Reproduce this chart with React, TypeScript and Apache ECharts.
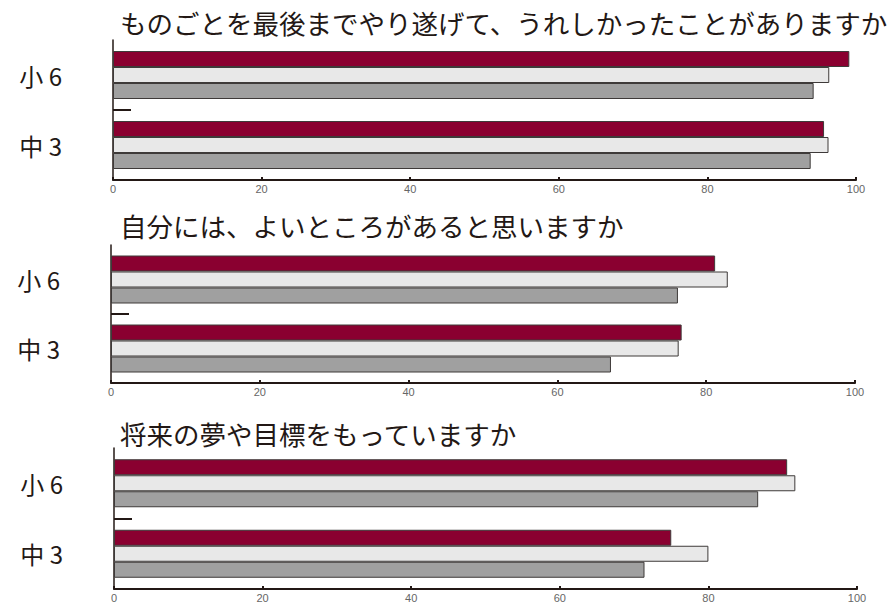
import React, { useEffect, useRef } from "react";
import * as echarts from "echarts";

const categories = ["小 6", "中 3"];
const titles = [
  "ものごとを最後までやり遂げて、うれしかったことがありますか",
  "自分には、よいところがあると思いますか",
  "将来の夢や目標をもっていますか",
];
const xTicks = [0, 20, 40, 60, 80, 100];
const seriesNames = ["系列1", "系列2", "系列3"];

const q1Red = [99.1, 95.7];
const q1White = [96.4, 96.3];
const q1Gray = [94.3, 93.9];

const q2Red = [81.2, 76.7];
const q2White = [82.9, 76.3];
const q2Gray = [76.2, 67.2];

const q3Red = [90.6, 75.0];
const q3White = [91.7, 80.0];
const q3Gray = [86.7, 71.4];

const panels = [
  [q1Red, q1White, q1Gray],
  [q2Red, q2White, q2Gray],
  [q3Red, q3White, q3Gray],
];

const colors = ["#8a0030", "#e8e8e8", "#a0a0a0"];
const dark = "#231815";

const grids = [
  { left: 113, top: 40, width: 743, height: 140 },
  { left: 111, top: 245, width: 744, height: 138 },
  { left: 114, top: 448, width: 743, height: 141 },
];
const titleTops = [4, 207, 415];
const titleLefts = [115, 115, 115];

export default function App() {
  const ref = useRef<HTMLDivElement>(null);
  useEffect(() => {
    if (!ref.current) return;
    const chart = echarts.init(ref.current, null, { renderer: "svg" });
    const cjk = '"Noto Sans CJK JP", "Noto Sans", sans-serif';
    const xAxes: any[] = [];
    const yAxes: any[] = [];
    const series: any[] = [];
    grids.forEach((g, i) => {
      xAxes.push({
        type: "value",
        gridIndex: i,
        min: xTicks[0],
        max: xTicks[xTicks.length - 1],
        interval: xTicks[1] - xTicks[0],
        axisLine: { show: true, lineStyle: { color: dark, width: 2 } },
        axisTick: { show: true, inside: true, length: 3, lineStyle: { color: dark, width: 2 } },
        axisLabel: {
          color: "#666666",
          fontSize: 11,
          margin: 3,
          fontFamily: '"Liberation Sans", Arial, sans-serif',
        },
        splitLine: { show: false },
      });
      yAxes.push({
        type: "category",
        gridIndex: i,
        data: categories,
        inverse: true,
        axisLine: { show: true, lineStyle: { color: dark, width: 1.5 } },
        axisTick: { show: false },
        axisLabel: { color: dark, fontSize: 24, margin: 51, fontFamily: cjk },
      });
      yAxes.push({
        type: "value",
        gridIndex: i,
        min: 0,
        max: 2,
        position: "left",
        axisLine: { show: false },
        axisLabel: { show: false },
        splitLine: { show: false },
        axisTick: {
          show: true,
          inside: true,
          length: 18,
          customValues: [1],
          lineStyle: { color: dark, width: 2 },
        },
      });
      panels[i].forEach((vals, k) => {
        series.push({
          type: "bar",
          name: seriesNames[k],
          xAxisIndex: i,
          yAxisIndex: i * 2,
          data: vals,
          barWidth: 16,
          barGap: "0%",
          itemStyle: { color: colors[k], borderColor: "#3e3a39", borderWidth: 1 },
        });
      });
    });
    chart.setOption({
      animation: false,
      backgroundColor: "#ffffff",
      title: titles.map((t, i) => ({
        text: t,
        left: titleLefts[i],
        top: titleTops[i],
        textStyle: { fontSize: 26.5, fontWeight: "normal", color: dark, fontFamily: cjk },
      })),
      grid: grids,
      xAxis: xAxes,
      yAxis: yAxes,
      series,
    });
    return () => chart.dispose();
  }, []);
  return (
    <div
      ref={ref}
      style={{ position: "fixed", left: 0, top: 0, width: 887, height: 603 }}
    />
  );
}
